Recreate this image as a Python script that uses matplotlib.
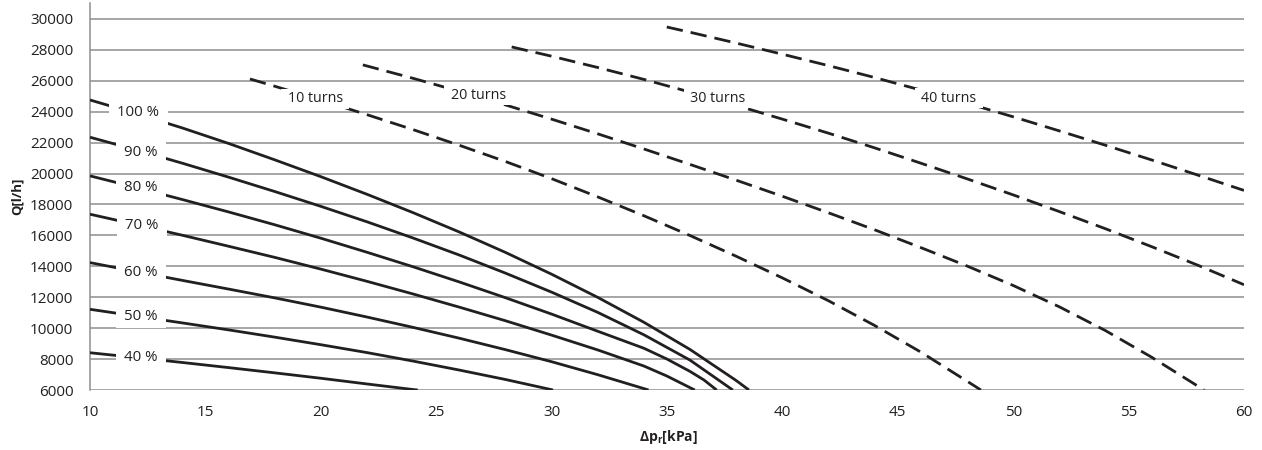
import matplotlib
matplotlib.use("Agg")
import matplotlib.pyplot as plt
from matplotlib.path import Path

plt.rcParams['font.family'] = ['Open Sans', 'DejaVu Sans']

# ---- data ----
# solid curves: valve opening (%), x = pressure drop [kPa], y = flow Q [l/h]
open_labels = ["100 %", "90 %", "80 %", "70 %", "60 %", "50 %", "40 %"]

x_100 = [10, 12, 14, 16, 18, 20, 22, 24, 26, 28, 30, 32, 34, 36, 38, 38.55]
y_100 = [24760, 23880, 22950, 21950, 20890, 19800, 18660, 17470, 16220, 14900,
         13490, 11990, 10380, 8620, 6610, 6000]

x_90 = [10, 12, 14, 16, 18, 20, 22, 24, 26, 28, 30, 32, 34, 36, 37.85]
y_90 = [22350, 21530, 20670, 19770, 18840, 17880, 16880, 15830, 14730, 13560,
        12330, 11020, 9570, 7930, 6000]

x_80 = [10, 12, 14, 16, 18, 20, 22, 24, 26, 28, 30, 32, 34, 35, 36, 36.6, 37.15]
y_80 = [19850, 19100, 18320, 17520, 16690, 15820, 14910, 13970, 12990, 11970,
        10910, 9800, 8700, 8000, 7200, 6650, 6000]

x_70 = [10, 12, 14, 16, 18, 20, 22, 24, 26, 28, 30, 32, 34, 35, 36.2]
y_70 = [17370, 16700, 16010, 15300, 14580, 13820, 13030, 12210, 11360, 10480,
        9550, 8590, 7550, 6900, 6000]

x_60 = [10, 12, 14, 16, 18, 20, 22, 24, 26, 28, 30, 32, 34, 34.2]
y_60 = [14240, 13660, 13090, 12530, 11960, 11360, 10720, 10050, 9350, 8610,
        7830, 6990, 6090, 6000]

x_50 = [10, 12, 14, 16, 18, 20, 22, 24, 26, 28, 30.06]
y_50 = [11220, 10780, 10340, 9890, 9420, 8930, 8420, 7870, 7290, 6680, 6000]

x_40 = [10, 12, 14, 16, 18, 20, 22, 24, 24.2]
y_40 = [8410, 8100, 7780, 7450, 7110, 6760, 6390, 6030, 6000]

# label positions for the % curves
open_label_x = [12.1, 12.2, 12.2, 12.25, 12.2, 12.2, 12.2]
open_label_y = [23920, 21350, 19090, 16610, 13610, 10740, 8090]

# dashed curves: number of turns
turn_labels = ["10 turns", "20 turns", "30 turns", "40 turns"]

x_t10 = [16.93, 18, 20, 22, 24, 26, 28, 30, 32, 34, 36, 38, 40, 42, 44, 46, 48, 48.6]
y_t10 = [26120, 25650, 24750, 23810, 22840, 21830, 20780, 19670, 18490, 17270,
         15990, 14650, 13250, 11770, 10170, 8450, 6570, 6000]

x_t20 = [21.82, 24, 26, 28, 30, 32, 34, 36, 38, 40, 42, 44, 46, 48, 50, 52, 54,
         56, 58, 58.27]
y_t20 = [27030, 26160, 25320, 24440, 23520, 22570, 21590, 20590, 19570, 18530,
         17460, 16360, 15210, 14020, 12760, 11380, 9840, 8120, 6250, 6000]

x_t30 = [28.27, 30, 32, 34, 36, 38, 40, 42, 44, 46, 48, 50, 52, 54, 56, 58, 60]
y_t30 = [28190, 27590, 26860, 26090, 25270, 24410, 23520, 22610, 21660, 20670,
         19660, 18620, 17540, 16430, 15270, 14070, 12810]

x_t40 = [34.99, 36, 38, 40, 42, 44, 46, 48, 50, 52, 54, 56, 58, 60]
y_t40 = [29480, 29140, 28440, 27720, 26980, 26210, 25400, 24550, 23670, 22760,
         21830, 20880, 19900, 18910]

turn_label_x = [19.76, 26.82, 37.21, 47.22]
turn_label_y = [24840, 25080, 24870, 24870]

x_ticks = [10, 15, 20, 25, 30, 35, 40, 45, 50, 55, 60]
y_ticks = [6000, 8000, 10000, 12000, 14000, 16000, 18000, 20000,
           22000, 24000, 26000, 28000, 30000]


# white box behind a label, wider than tall, so it cuts the curve and grid
def label_box(padx, pady):
    def box(x0, y0, width, height, mutation_size):
        px = padx * mutation_size
        py = pady * mutation_size
        x1, y1 = x0 + width + px, y0 + height + py
        xa, ya = x0 - px, y0 - py
        return Path([(xa, ya), (x1, ya), (x1, y1), (xa, y1), (xa, ya)], closed=True)
    return box


# ---- figure ----
ink = '#231f20'
grid_col = '#8e8e8e'

fig = plt.figure(figsize=(12.62, 4.5), dpi=100)
ax = fig.add_axes([90 / 1262, 60 / 450, 1154 / 1262, 386.5 / 450])

solid = [(x_100, y_100), (x_90, y_90), (x_80, y_80), (x_70, y_70),
         (x_60, y_60), (x_50, y_50), (x_40, y_40)]
for xs, ys in solid:
    ax.plot(xs, ys, color=ink, lw=2.0, solid_capstyle='butt',
            solid_joinstyle='round', zorder=3)

dashed = [(x_t10, y_t10), (x_t20, y_t20), (x_t30, y_t30), (x_t40, y_t40)]
for xs, ys in dashed:
    ax.plot(xs, ys, color=ink, lw=2.0, linestyle=(0, (5.9, 2.9)),
            dash_capstyle='butt', zorder=3)

# labels sit on the curves with a white box that hides the line
for lab, lx, ly in zip(open_labels, open_label_x, open_label_y):
    ax.text(lx, ly, lab, ha='center', va='center', fontsize=10.8, color=ink,
            bbox=dict(boxstyle=label_box(0.55, 0.28), fc='white', ec='none'), zorder=5)

for lab, lx, ly in zip(turn_labels, turn_label_x, turn_label_y):
    ax.text(lx, ly, lab, ha='center', va='center', fontsize=10.3, color=ink,
            bbox=dict(boxstyle=label_box(0.45, 0.18), fc='white', ec='none'), zorder=5)

ax.set_xlim(10, 60)
ax.set_ylim(6000, 31000)
ax.set_xticks(x_ticks)
ax.set_yticks(y_ticks)
ax.tick_params(length=0, labelsize=11, colors=ink)
ax.tick_params(axis='y', pad=12)
ax.tick_params(axis='x', pad=11)

ax.grid(axis='y', color=grid_col, lw=1.1)
ax.grid(axis='x', visible=False)
ax.set_axisbelow(True)
for side in ['top', 'right', 'bottom']:
    ax.spines[side].set_visible(False)
ax.spines['left'].set_color(grid_col)
ax.spines['left'].set_linewidth(1.1)

fig.text(17 / 1262, 1 - 196 / 450, 'Q[l/h]', rotation=90, ha='center', va='center',
         fontsize=9.5, fontweight='bold', color=ink)
fig.text(668 / 1262, 1 - 437 / 450, r'Δp$_\mathregular{r}$[kPa]', ha='center', va='center',
         fontsize=10, fontweight='bold', color=ink)

fig.savefig('out.png', dpi=100)
